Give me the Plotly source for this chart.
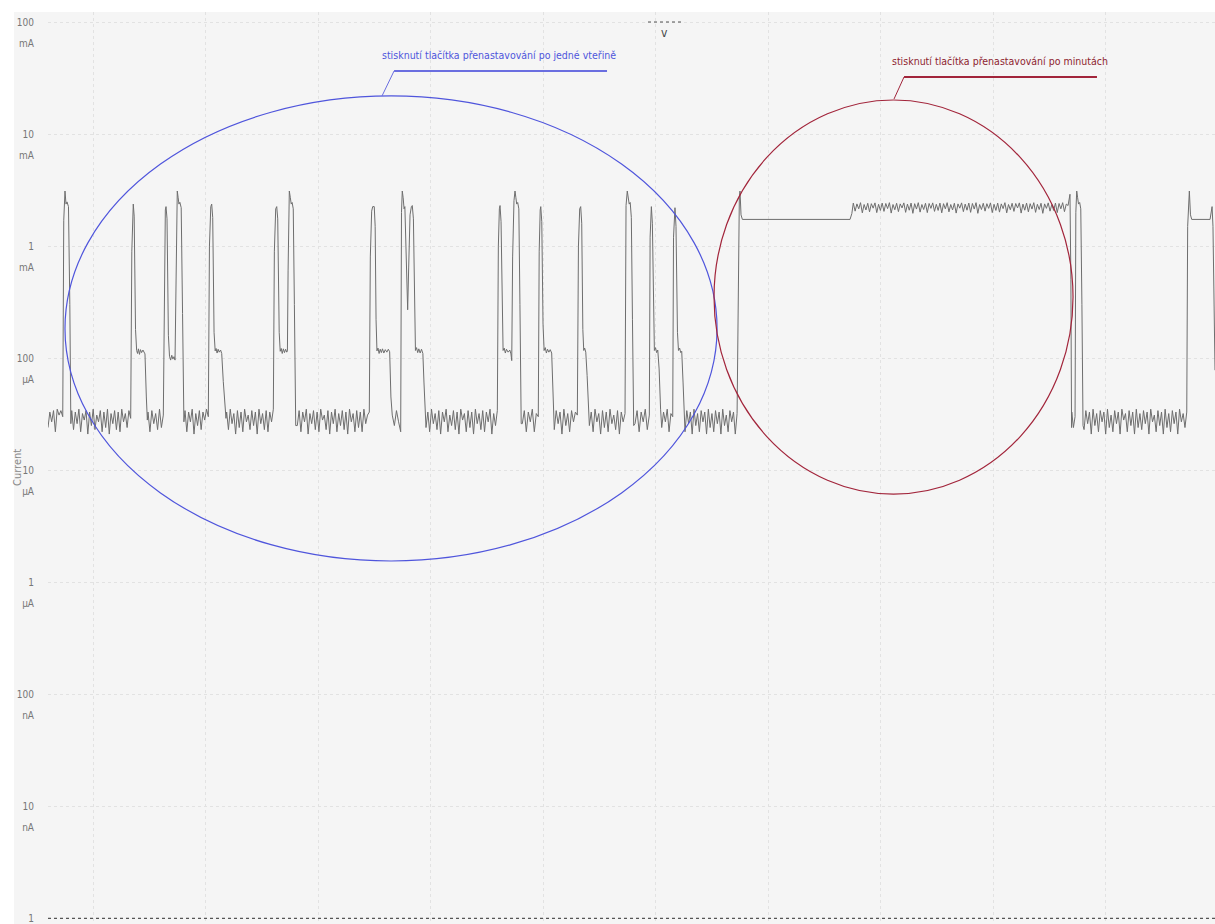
import numpy as np
import plotly.graph_objects as go

# ---------------- data (time in ms, current in µA) ----------------
pulse_t_ms = [
    740, 751, 760, 769, 782, 794, 803,
    1345, 1352, 1358, 1366, 1378, 1388, 1396, 1404, 1413, 1422, 1432, 1444, 1454, 1462, 1474, 1483,
    1635, 1643, 1649, 1658, 1670, 1680, 1690, 1700, 1710, 1720, 1729, 1736, 1743, 1749, 1757, 1764, 1772, 1784, 1796, 1808,
    2035, 2047, 2055, 2064, 2076, 2086, 2094, 2103, 2112, 2122, 2134, 2144, 2158, 2172, 2182,
    2612, 2624, 2633, 2642, 2655, 2664, 2673, 2682, 2692, 2702, 2712, 2722, 2728, 2734, 2740, 2745, 2754, 2762, 2770, 2780, 2790, 2802,
    3465, 3477, 3486, 3500, 3508, 3516, 3524, 3533, 3543, 3553, 3563, 3573, 3585, 3598, 3612, 3625, 3637, 3648,
    3742, 3749, 3757, 3765, 3772, 3780, 3790, 3797, 3806, 3818, 3830, 3838, 3848, 3857, 3866, 3876, 3886, 3896, 3908, 3920, 3932, 3942, 3952,
    4603, 4612, 4618, 4627, 4637, 4645, 4655, 4665, 4675, 4690, 4705, 4715, 4722, 4730, 4742, 4751, 4759, 4766, 4775, 4785, 4795, 4806,
    4966, 4975, 4980, 4989, 5000, 5010, 5020, 5030, 5040, 5052, 5064, 5077, 5088, 5096,
    5315, 5326, 5335, 5344, 5354, 5362, 5370, 5380, 5392, 5404,
    5738, 5749, 5758, 5766, 5775, 5785, 5795, 5806,
    5952, 5963, 5972, 5982, 5990, 6000, 6010, 6020, 6032, 6045,
    6160, 6167, 6173, 6182, 6195, 6204, 6214, 6224, 6233, 6245, 6256,
    6736, 6745, 6751, 6760, 6772, 7729, 7745,
    9684, 9692, 9698,
    9736, 9744, 9752, 9760, 9770, 9780, 9790, 9800,
    10730, 10740, 10745, 10755, 10766, 10929, 10940, 10947, 10955, 10965, 10973,
]
pulse_uA = [
    1700, 3100, 2370, 2480, 2250, 300, 26,
    900, 2100, 2370, 1850, 180, 117, 110, 121, 108, 119, 112, 118, 113, 109, 45, 28,
    1100, 2100, 2250, 1750, 160, 104, 96, 106, 98, 103, 96, 500, 2500, 3100, 2700, 2370, 2460, 2200, 250, 27,
    1000, 2250, 2370, 1800, 170, 116, 122, 111, 120, 113, 118, 110, 62, 38, 29,
    900, 2150, 2250, 1750, 170, 115, 122, 110, 121, 112, 120, 113, 116, 600, 2500, 3100, 2700, 2370, 2450, 2150, 300, 25,
    800, 2050, 2250, 2250, 1500, 220, 116, 123, 110, 120, 112, 121, 111, 119, 113, 120, 114, 45,
    2000, 3100, 2700, 2150, 2250, 1100, 330, 270, 650, 1900, 2250, 2300, 1750, 220, 117, 124, 112, 121, 111, 120, 110, 60, 30,
    1000, 2150, 2300, 1650, 200, 117, 123, 111, 120, 113, 118, 109, 95, 800, 2550, 3100, 2700, 2370, 2450, 2150, 300, 26,
    900, 2100, 2250, 1650, 200, 117, 124, 111, 120, 113, 119, 111, 50, 30,
    1000, 2150, 2250, 1600, 180, 117, 123, 113, 70, 35,
    2300, 3100, 2700, 2370, 2450, 1800, 220, 25,
    1200, 2250, 1600, 180, 117, 124, 112, 118, 80, 35,
    1200, 2050, 2200, 1500, 170, 117, 123, 112, 115, 60, 30,
    1000, 2700, 3100, 1900, 1730, 1730, 1950,
    2900, 500, 24,
    2000, 3100, 2700, 2370, 2450, 2150, 300, 25,
    1500, 2900, 3100, 1900, 1730, 1730, 2100, 2250, 1500, 300, 78,
]

noise_start_ms = [600, 811, 1489, 1818, 2188, 2816, 3660, 3960, 4816, 5100,
                  5412, 5818, 6055, 6262, 7758, 9700, 9809]
noise_end_ms = [731, 1335, 1625, 2025, 2603, 3456, 3735, 4594, 4958, 5305,
                5729, 5945, 6153, 6725, 9667, 9729, 10722]

noise_01 = [24, 33, 27, 34, 22, 35, 31, 34, 30]
noise_02 = [34, 23, 33, 26, 35, 22, 32, 28, 34, 21, 33, 25, 35, 23, 31, 27, 34, 22,
            33, 24, 35, 21, 32, 26, 34, 23, 33, 22, 35, 27, 32, 24, 34, 29]
noise_03 = [33, 22, 34, 26, 32, 23, 35, 24, 31]
noise_04 = [34, 22, 33, 27, 35, 21, 32, 25, 34, 23, 33, 28, 35, 30]
noise_05 = [33, 23, 35, 26, 32, 21, 34, 24, 33, 22, 35, 27, 31, 23, 34, 25, 33, 21,
            35, 26, 32, 23, 34, 22, 33, 27, 35]
noise_06 = [25, 34, 22, 33, 27, 35, 21, 32, 26, 34, 23, 33, 22, 35, 28, 31, 23, 34,
            21, 33, 26, 35, 22, 32, 25, 34, 23, 33, 21, 35, 27, 32, 22, 34, 24, 33,
            22, 35, 26, 31, 33]
noise_07 = [31, 25, 34, 27, 22]
noise_08 = [24, 33, 22, 35, 26, 32, 23, 34, 21, 33, 27, 35, 22, 31, 25, 34, 23, 33,
            21, 35, 28, 32, 22, 34, 24, 33, 21, 35, 26, 32, 23, 34, 22, 33, 27, 35,
            21, 32, 25, 34]
noise_09 = [26, 34, 22, 33, 27, 35, 22, 32, 30]
noise_10 = [23, 34, 26, 33, 21, 35, 25, 32, 22, 34, 27, 33, 31]
noise_11 = [25, 33, 22, 35, 27, 32, 21, 34, 24, 33, 22, 35, 26, 31, 23, 34, 21, 33, 27, 32]
noise_12 = [26, 34, 22, 33, 27, 35, 23, 31]
noise_13 = [24, 33, 27, 35, 22, 32, 30]
noise_14 = [22, 34, 26, 33, 21, 35, 25, 32, 22, 34, 27, 33, 21, 35, 24, 32, 22, 34,
            26, 33, 21, 35, 25, 31, 22, 34, 27, 33, 21, 32]
noise_minutes = [2420, 2050, 2380, 2150, 2440, 1980, 2350, 2100, 2410, 2020, 2390, 2180,
                 2430, 1990, 2360, 2080, 2420, 2040, 2400, 2160, 2440, 1970, 2350, 2110,
                 2410, 2030, 2380, 2190, 2430, 2000, 2370, 2090, 2420, 1960, 2390, 2140,
                 2440, 2010, 2350, 2120, 2410, 1990, 2400, 2170, 2430, 2040, 2360, 2080,
                 2420, 1980, 2390, 2150, 2440, 2020, 2350, 2100, 2410, 1970, 2380, 2180,
                 2430, 2030, 2370, 2090, 2420, 2000, 2400, 2140, 2440, 1960, 2350, 2120,
                 2410, 2050, 2390, 2170, 2430, 1990, 2360, 2080, 2420, 2010, 2380, 2160,
                 2440, 1980, 2350, 2110, 2410, 2040, 2400, 2190, 2430, 1970, 2370, 2090,
                 2420, 2020, 2390, 2140, 2440, 2000, 2360, 2120, 2410, 1960, 2380, 2170,
                 2430, 2050, 2350, 2080, 2420, 1990, 2400, 2150, 2440, 2030, 2370, 2300]
noise_15 = [33, 24, 30]
noise_16 = [23, 34, 26, 33, 21, 35, 25, 32, 22, 34, 27, 33, 21, 35, 24, 31, 22, 34,
            26, 33, 21, 35, 28, 32, 22, 34, 25, 33, 21, 35, 24, 32, 23, 34, 26, 33,
            21, 35, 27, 31, 22, 34, 25, 33, 21, 35, 24, 32, 22, 34, 26, 33, 21, 35,
            27, 32, 24, 33]
noise_values = [noise_01, noise_02, noise_03, noise_04, noise_05, noise_06, noise_07,
                noise_08, noise_09, noise_10, noise_11, noise_12, noise_13, noise_14,
                noise_minutes, noise_15, noise_16]

tick_values_A = [1e-9, 1e-8, 1e-7, 1e-6, 1e-5, 1e-4, 1e-3, 1e-2, 1e-1]
tick_numbers = ["1", "10", "100", "1", "10", "100", "1", "10", "100"]
tick_units = ["nA", "nA", "nA", "µA", "µA", "µA", "mA", "mA", "mA"]

label_seconds = "stisknutí tlačítka přenastavování po jedné vteřině"
label_minutes = "stisknutí tlačítka přenastavování po minutách"

# ---------------- assemble the sampled signal ----------------
t_all = list(pulse_t_ms)
v_all = list(pulse_uA)
for s, e, vals in zip(noise_start_ms, noise_end_ms, noise_values):
    t_all += list(np.linspace(s, e, len(vals)))
    v_all += list(vals)
order = np.argsort(t_all, kind="stable")
t_sorted = np.array(t_all)[order]
i_sorted = np.array(v_all, dtype=float)[order] * 1e-6

FONT = "Liberation Sans Narrow, DejaVu Sans Condensed, Arial Narrow, sans-serif"
BLUE = "#4f55dc"
RED = "#a2253b"

x_range = [600, 10973]
y_range = [-9.0509, -0.9107]

fig = go.Figure()
fig.add_trace(go.Scatter(x=t_sorted, y=i_sorted, mode="lines",
                         line=dict(color="#6e6e6e", width=1), showlegend=False,
                         hoverinfo="skip"))
fig.add_trace(go.Scatter(x=x_range, y=[1e-9, 1e-9], mode="lines", yaxis="y2",
                         line=dict(color="#555555", width=1.2, dash="dot"),
                         showlegend=False, hoverinfo="skip"))

shapes = [
    # grey canvas
    dict(type="rect", xref="paper", yref="paper", x0=-34 / 1167, x1=1, y0=0, y1=1,
         fillcolor="#f5f5f5", line=dict(width=0), layer="below"),
    # blue ellipse and callout
    dict(type="circle", xref="x", yref="y", x0=751, x1=6547, y0=1.545e-6, y1=0.02188,
         line=dict(color=BLUE, width=1.2)),
    dict(type="line", xref="x", yref="y", x0=3676, x1=5569, y0=0.03653, y1=0.03653,
         line=dict(color="#6a6ee0", width=2)),
    dict(type="line", xref="x", yref="y", x0=3676, x1=3569, y0=0.03653, y1=0.02188,
         line=dict(color="#6a6ee0", width=1)),
    # red circle and callout
    dict(type="circle", xref="x", yref="y", x0=6520, x1=9711, y0=6.12e-6, y1=0.02014,
         line=dict(color=RED, width=1.2)),
    dict(type="line", xref="x", yref="y", x0=8209, x1=9924, y0=0.0323, y1=0.0323,
         line=dict(color=RED, width=2)),
    dict(type="line", xref="x", yref="y", x0=8209, x1=8120, y0=0.0323, y1=0.02056,
         line=dict(color=RED, width=1)),
    # cursor marker at the top
    dict(type="line", xref="x", yref="y", x0=5933, x1=6253, y0=0.1, y1=0.1,
         line=dict(color="#555555", width=1.2, dash="dot")),
]

annotations = [
    dict(text=label_seconds, xref="x", yref="y", x=4605, y=-1.2945, showarrow=False,
         font=dict(family=FONT, size=10.5, color=BLUE), xanchor="center", yanchor="middle"),
    dict(text=label_minutes, xref="x", yref="y", x=9058, y=-1.348, showarrow=False,
         font=dict(family=FONT, size=10.5, color="#8e1e30"), xanchor="center", yanchor="middle"),
    dict(text="v", xref="x", yref="y", x=6084, y=-1.098, showarrow=False,
         font=dict(family=FONT, size=12, color="#444444"), xanchor="center", yanchor="middle"),
    dict(text="Current", xref="paper", yref="paper", x=-31 / 1167, y=0.5, showarrow=False,
         textangle=-90, font=dict(family=FONT, size=11, color="#888888"),
         xanchor="center", yanchor="middle"),
]

fig.update_layout(
    width=1215, height=924,
    margin=dict(l=48, r=0, t=12, b=0, pad=0),
    paper_bgcolor="white",
    plot_bgcolor="#f5f5f5",
    font=dict(family=FONT, size=10, color="#777777"),
    showlegend=False,
    xaxis=dict(range=x_range, tick0=0, dtick=1000, showticklabels=False, ticks="",
               showgrid=True, gridcolor="#e2e2e2", griddash="dot", gridwidth=1,
               zeroline=False, showline=False, fixedrange=True),
    yaxis=dict(type="log", range=y_range, tickmode="array", tickvals=tick_values_A,
               ticktext=tick_numbers, ticks="", ticklabelstandoff=13,
               tickfont=dict(family=FONT, size=10, color="#777777"),
               showgrid=True, gridcolor="#e2e2e2", griddash="dot", gridwidth=1,
               zeroline=False, showline=False, fixedrange=True),
    yaxis2=dict(type="log", range=y_range, overlaying="y", side="left", anchor="x",
                tickmode="array", tickvals=tick_values_A, ticktext=tick_units,
                ticks="", ticklabelstandoff=13, ticklabelshift=21,
                tickfont=dict(family=FONT, size=10, color="#777777"),
                showgrid=False, zeroline=False, showline=False, fixedrange=True),
    shapes=shapes,
    annotations=annotations,
)

fig.write_html(
    "out.html",
    config={"displayModeBar": False},
    post_script="document.body.style.margin='0';"
                "document.documentElement.style.overflow='hidden';"
                "document.body.style.overflow='hidden';",
)
